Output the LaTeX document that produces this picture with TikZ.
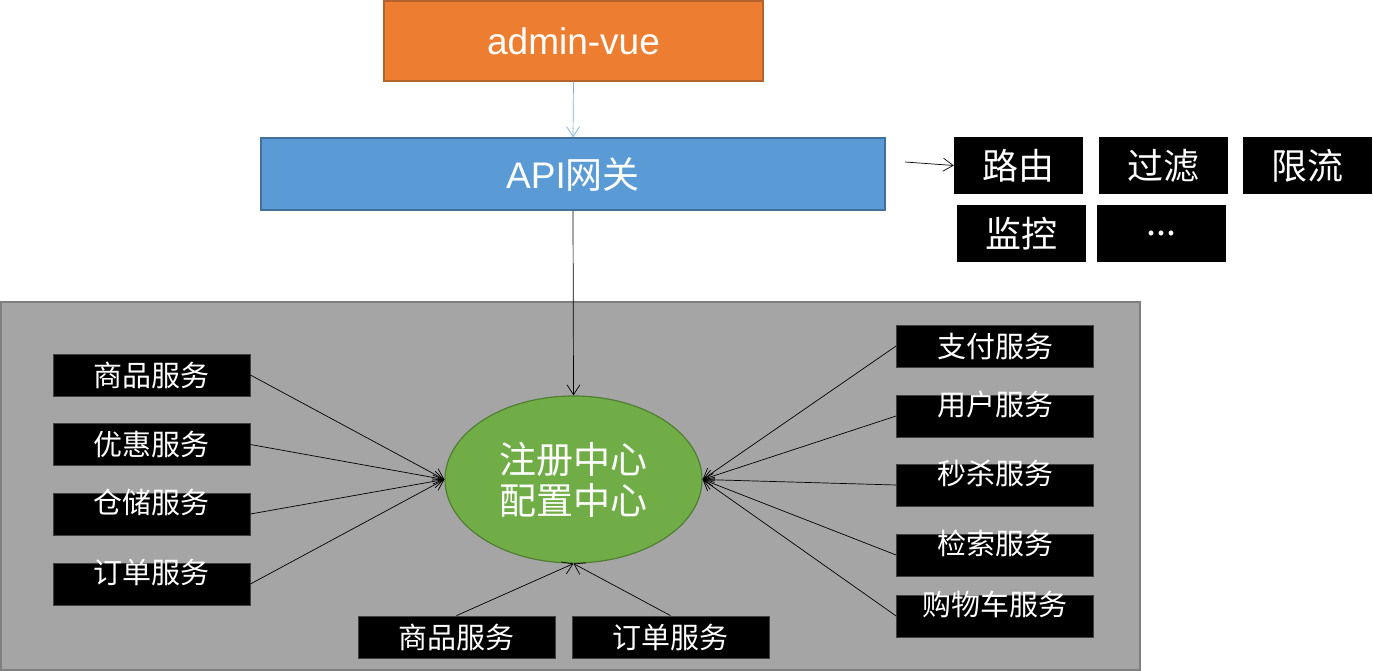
\documentclass[tikz,border=0pt]{standalone}
\usepackage{fontspec}
\setmainfont{Liberation Sans}
\newfontfamily\cjk{Noto Sans CJK SC}
\usetikzlibrary{arrows.meta}
\usetikzlibrary{shapes.geometric}

\definecolor{vueorange}{HTML}{ED7D31}
\definecolor{vueedge}{HTML}{B4632D}
\definecolor{gwblue}{HTML}{5B9BD5}
\definecolor{gwedge}{HTML}{41719C}
\definecolor{areagray}{HTML}{A5A5A5}
\definecolor{areaedge}{HTML}{7F7F7F}
\definecolor{reggreen}{HTML}{70AD47}
\definecolor{regedge}{HTML}{507E32}

\begin{document}
\begin{tikzpicture}[x=1pt,y=-1pt,
    box/.style={line width=1.5pt, text=white, inner sep=0pt, font=\fontsize{37}{37}\selectfont},
    tag/.style={fill=black, text=white, minimum width=129pt, minimum height=57pt, inner sep=0pt,
      font=\cjk\fontsize{36}{36}\selectfont},
    svc/.style={fill=black, draw=black!75, line width=0.8pt, text=white, minimum width=197pt,
      minimum height=42pt, inner sep=0pt, text height=25pt, text depth=3pt,
      font=\cjk\fontsize{29}{29}\selectfont},
    svcup/.style={svc, text height=19.5pt, text depth=21.5pt},
    link/.style={-{Straight Barb[length=10pt,width=13pt]}, line width=0.7pt}]
        \useasboundingbox (0,0) rectangle (1373,671);
        % Draw the service area
        \draw[fill=areagray, draw=areaedge, line width=1.5pt] (1,302) rectangle (1140,670);
        % Draw the front end and the gateway
        \node[box, fill=vueorange, draw=vueedge, minimum width=379pt, minimum height=80pt] (vue) at (573.5,41) {admin-vue};
        \node[box, fill=gwblue, draw=gwedge, minimum width=624pt, minimum height=72pt] (gw) at (573,174) {API{\cjk 网关}};
        \draw[link, gwblue!80] (vue.south) -- (gw.north);
        % Draw the gateway functions
        \node[tag] (route) at (1018.5,165.5) {路由};
        \node[tag] (filter) at (1163.5,165.5) {过滤};
        \node[tag] (limit) at (1307.5,165.5) {限流};
        \node[tag] (monitor) at (1021.5,233.5) {监控};
        \node[tag] (more) at (1161.5,233.5) {...};
        \coordinate (gwout) at (905,162);
        \draw[link] (gwout) -- (route.west);
        % Draw the registry
        \node[ellipse, fill=reggreen, draw=regedge, line width=1.2pt, minimum width=257pt, minimum height=167pt,
          text=white, align=center, font=\cjk\fontsize{37}{41}\selectfont] (reg) at (573.5,479.5) {注册中心\\配置中心};
        \draw[link] (gw.south) -- (reg.north);
        % Draw the services
        \node[svc] (goods) at (151.5,375) {商品服务};
        \node[svc] (coupon) at (151.5,444.5) {优惠服务};
        \node[svcup] (ware) at (151.5,514) {仓储服务};
        \node[svcup] (order) at (151.5,584) {订单服务};
        \node[svc] (pay) at (995,346) {支付服务};
        \node[svcup] (user) at (995,416) {用户服务};
        \node[svcup] (seckill) at (995,485) {秒杀服务};
        \node[svcup] (search) at (995,555) {检索服务};
        \node[svcup] (cart) at (995,616) {购物车服务};
        \node[svc] (goods2) at (456.5,637) {商品服务};
        \node[svc] (order2) at (670.5,637) {订单服务};
        % Draw the registrations
        \foreach \s in {goods,coupon,ware,order}{
            \draw[link] (\s.east) -- (reg.west);
        }
        \foreach \s in {pay,user,seckill,search,cart}{
            \draw[link] (\s.west) -- (reg.east);
        }
        \foreach \s in {goods2,order2}{
            \draw[link] (\s.north) -- (reg.south);
        }
    \end{tikzpicture}
\end{document}
